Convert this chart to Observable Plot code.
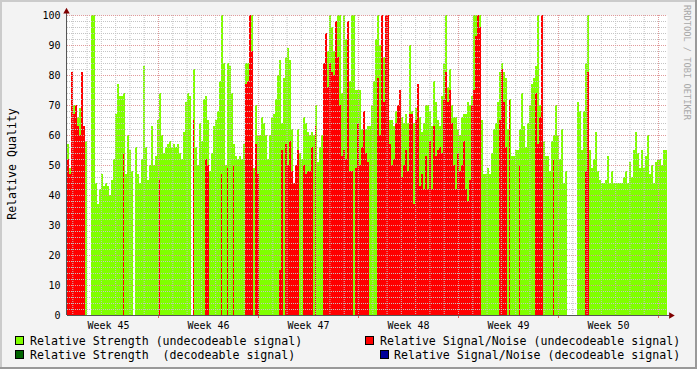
<!DOCTYPE html>
<html><head><meta charset="utf-8">
<script src="https://cdn.jsdelivr.net/npm/d3@7"></script>
<script src="https://cdn.jsdelivr.net/npm/@observablehq/plot@0.6"></script>
<style>
html,body{margin:0;padding:0;background:#f3f3f3;}
#wrap{position:relative;width:697px;height:369px;background:#f3f3f3;overflow:hidden;}
#wrap svg{position:absolute;left:0;top:0;}
</style></head><body><div id="wrap"></div>
<script>
// Relative Strength (undecodeable signal), one value per ~3.36 h sample; null = no data
const strengthUndecodeable = [
57,49,70,70,70,66,69,72,63,58,
null,null,100,100,44,37,42,47,43,44,
43,40,45,52,67,77,73,73,74,47,
60,55,48,null,56,47,44,52,83,56,
45,50,63,50,53,65,74,60,54,56,
57,58,56,57,56,57,54,52,61,71,
74,73,null,82,56,50,64,58,72,73,
65,48,54,63,65,68,78,100,84,50,
84,83,74,57,53,52,53,52,57,84,
84,100,100,49,70,60,60,66,64,60,
52,60,66,67,72,80,85,64,79,86,
89,85,62,44,50,62,54,52,66,64,
61,60,61,60,70,51,56,60,84,90,
88,100,96,88,90,100,100,74,100,92,
80,78,100,100,75,75,75,62,62,62,
63,63,70,78,92,100,90,86,86,95,
98,65,65,63,68,69,69,66,64,67,
64,90,68,64,69,72,66,61,64,70,
70,68,63,78,71,65,63,73,84,100,
76,82,70,66,66,62,60,66,67,67,
71,70,73,100,100,100,100,65,47,47,
49,47,54,62,64,71,81,84,81,79,
62,72,53,53,55,55,62,74,63,56,
64,70,77,79,83,100,70,65,58,53,
53,48,58,60,70,60,52,62,44,48,
null,null,null,null,null,71,68,55,68,84,
100,55,49,52,61,48,45,44,44,45,
53,44,48,44,44,44,44,44,46,48,
44,51,46,55,61,54,49,55,49,53,
60,47,50,44,51,52,52,50,55,55
];
// Relative Signal/Noise (undecodeable signal); 0 = nothing drawn
const snrUndecodeable = [
52,47,81,67,70,63,60,81,63,0,
0,0,0,0,0,0,0,0,0,0,
0,0,0,0,0,0,0,0,54,0,
0,0,0,0,0,0,0,0,0,0,
0,0,0,0,0,0,45,0,0,0,
0,0,0,0,0,0,0,0,0,0,
0,0,0,65,0,0,0,0,0,52,
50,0,0,0,0,0,0,47,0,0,
49,0,0,50,0,0,0,0,0,77,
78,100,88,0,57,47,0,0,0,0,
0,0,0,0,0,0,15,55,0,57,
50,58,48,44,50,55,0,0,50,47,
48,48,56,0,63,0,0,0,84,94,
76,84,81,80,98,86,70,53,55,52,
98,48,48,0,49,64,50,56,68,54,
51,0,0,0,0,79,60,100,71,100,
100,57,50,52,64,70,75,46,50,55,
48,67,67,37,65,77,43,47,42,53,
42,58,42,63,53,55,56,54,72,81,
71,75,64,50,42,54,48,50,58,42,
38,45,70,75,93,100,96,0,0,0,
0,0,0,0,0,0,65,82,71,56,
0,72,0,0,0,0,50,0,0,0,
0,0,0,0,74,57,66,100,0,0,
0,0,0,52,0,0,0,0,0,0,
0,0,0,0,0,0,0,0,0,48,
81,0,0,0,0,0,0,0,0,0,
0,0,0,0,0,0,0,0,0,0,
0,0,0,0,0,0,0,0,0,0,
0,0,0,0,0,0,0,0,0,0
];
// decodeable series: no visible values in this period
const strengthDecodeable = [];
const snrDecodeable = [];

const yTicks = [0,10,20,30,40,50,60,70,80,90,100];
const weekLabels = ["Week 45","Week 46","Week 47","Week 48","Week 49","Week 50"];
const legendItems = [
  {label:"Relative Strength (undecodeable signal)", color:"#80ff00"},
  {label:"Relative Signal/Noise (undecodeable signal)", color:"#ff0000"},
  {label:"Relative Strength  (decodeable signal)", color:"#006400"},
  {label:"Relative Signal/Noise (decodeable signal)", color:"#000099"}
];

const start = new Date(Date.UTC(2009,10,2,15,7,12));
const stepMs = 201.6*60*1000;
const end = new Date(+start + strengthUndecodeable.length*stepMs);
const pxMs = stepMs/2;
const rows = strengthUndecodeable.map((g,i)=>({
  t1:new Date(+start+i*stepMs), t2:new Date(+start+(i+1)*stepMs), g, r:snrUndecodeable[i],
  lone: snrUndecodeable[i]>0 && !(snrUndecodeable[i-1]>0) && !(snrUndecodeable[i+1]>0)
}));
const days = d3.utcDay.range(start, end);
const mondays = d3.utcMonday.range(start, end);
const minorDays = days.filter(d=>d.getUTCDay()!==1);
const weekStarts = d3.utcMonday.range(d3.utcMonday.floor(start), end).slice(0, weekLabels.length);
const weekMid = weekStarts.map(d=>d3.utcHour.offset(d,84));
const minorY = d3.range(2,100,2).filter(v=>v%10!==0);
const majorY = yTicks.filter(v=>v>0);
const arrowEnd = new Date(+end + 3.5*pxMs);
const lineEnd = new Date(+end + 2*pxMs);

const chart = Plot.plot({
  width: 697, height: 369,
  marginLeft: 67, marginRight: 30, marginTop: 15, marginBottom: 54,
  style: {background:"transparent", fontFamily:"'DejaVu Sans Mono', monospace", fontSize:"10px", color:"#000", overflow:"visible"},
  x: {type:"utc", domain:[start, end]},
  y: {domain:[0,100]},
  marks: [
    Plot.frame({fill:"#ffffff", stroke:null}),
    Plot.rect(rows.filter(d=>d.g!=null), {x1:"t1", x2:"t2", y1:()=>0, y2:"g", fill:"#80ff00", shapeRendering:"crispEdges"}),
    Plot.rect(rows.filter(d=>d.r>0 && !d.lone), {x1:"t1", x2:"t2", y1:()=>0, y2:"r", fill:"#ff0000", shapeRendering:"crispEdges"}),
    Plot.rect(rows.filter(d=>d.lone), {x1:"t1", x2:"t2", y1:()=>0, y2:"r", insetRight:1, fill:"#ff0000", shapeRendering:"crispEdges"}),
    Plot.ruleY(minorY, {stroke:"#c4c4c4", strokeDasharray:"1,1"}),
    Plot.ruleX(minorDays, {stroke:"#c4c4c4", strokeDasharray:"1,1"}),
    Plot.ruleY(majorY, {stroke:"#e09a9a", strokeDasharray:"1,1"}),
    Plot.ruleX(mondays, {stroke:"#e09a9a", strokeDasharray:"1,1"}),
    Plot.ruleX(mondays, {y1:-1, y2:0, stroke:"#e06060"}),
    Plot.axisY(yTicks, {tickSize:0, tickPadding:7, label:null}),
    Plot.axisX(weekMid, {tickSize:0, tickPadding:6, label:null,
      tickFormat:d=>weekLabels[weekMid.findIndex(w=>+w===+d)]}),
    Plot.ruleX([start], {y1:0, y2:101.5, stroke:"#555", dx:-1}),
    Plot.ruleY([0], {x1:()=>start, x2:()=>lineEnd, stroke:"#555"}),
    Plot.dot([0], {x:()=>start, y:()=>101.3, symbol:"triangle", r:2.4, fill:"#7f0000", stroke:"none", dx:-1}),
    Plot.dot([0], {x:()=>arrowEnd, y:()=>0, symbol:"triangle", r:2.4, rotate:90, fill:"#7f0000", stroke:"none"})
  ]
});
const wrap = document.getElementById("wrap");
wrap.appendChild(chart);

// overlay: borders, axis title, legend, watermark
const ov = d3.select(wrap).append("svg").attr("width",697).attr("height",369)
  .style("font-family","'DejaVu Sans Mono', monospace");
ov.append("rect").attr("x",0).attr("y",0).attr("width",697).attr("height",2).attr("fill","#cbcbcb");
ov.append("rect").attr("x",0).attr("y",0).attr("width",2).attr("height",369).attr("fill","#cbcbcb");
ov.append("rect").attr("x",0).attr("y",367).attr("width",697).attr("height",2).attr("fill","#999999");
ov.append("rect").attr("x",695).attr("y",0).attr("width",2).attr("height",369).attr("fill","#999999");

ov.append("text").attr("transform","translate(16,164) rotate(-90)")
  .attr("text-anchor","middle").attr("font-size","11.6px").attr("fill","#000").text("Relative Quality");

ov.append("text").attr("transform","translate(684,5) rotate(90)")
  .attr("font-size","8.7px").attr("fill","#a8a8a8").text("RRDTOOL / TOBI OETIKER");

const pos = [
  {sx:15.5, sy:336.5, tx:30, ty:345},
  {sx:365.5, sy:336.5, tx:380, ty:345},
  {sx:15.5, sy:350.5, tx:30, ty:359},
  {sx:380.5, sy:350.5, tx:394, ty:359}
];
legendItems.forEach((it,k)=>{
  const p = pos[k];
  ov.append("rect").attr("x",p.sx).attr("y",p.sy).attr("width",8).attr("height",8)
    .attr("fill",it.color).attr("stroke","#000").attr("stroke-width",1);
  ov.append("text").attr("x",p.tx).attr("y",p.ty).attr("font-size","11.6px").attr("fill","#000")
    .attr("xml:space","preserve").style("white-space","pre").text(it.label);
});
</script></body></html>
